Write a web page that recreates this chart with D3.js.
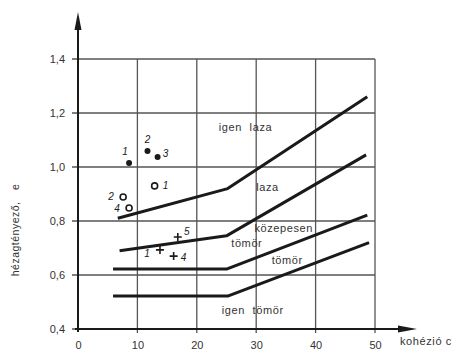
<!DOCTYPE html>
<html>
<head>
<meta charset="utf-8">
<script src="https://cdn.jsdelivr.net/npm/d3@7"></script>
<style>
    body { margin: 0; background: #fff; }
    svg { display: block; font-family: "Liberation Sans", Arial, sans-serif; }
</style>
</head>
<body>
<main></main>
<script>
// Ticks
const xTicks = [0, 10, 20, 30, 40, 50];
const yTicks = [0.4, 0.6, 0.8, 1.0, 1.2, 1.4];

// Boundary lines (kohézió c, hézagtényező e)
const lineIgenLaza = [[6.7, 0.81], [25.2, 0.92], [48.7, 1.26]];
const lineLaza = [[7.0, 0.69], [25.0, 0.745], [48.5, 1.045]];
const lineKozepesen = [[5.9, 0.622], [25.0, 0.622], [48.7, 0.822]];
const lineTomor = [[5.9, 0.522], [25.2, 0.522], [49.0, 0.72]];

// Measured points
const filledPoints = [
    { c: 8.6, e: 1.015, lab: '1' },
    { c: 11.7, e: 1.059, lab: '2' },
    { c: 13.4, e: 1.037, lab: '3' }
];
const openPoints = [
    { c: 12.9, e: 0.93, lab: '1' },
    { c: 7.6, e: 0.889, lab: '2' },
    { c: 8.6, e: 0.848, lab: '4' }
];
const crossPoints = [
    { c: 13.8, e: 0.693, lab: '1' },
    { c: 16.1, e: 0.67, lab: '4' },
    { c: 16.8, e: 0.741, lab: '5' }
];

// Region names
const regionLabels = [
    { c: 23.7, e: 1.133, text: 'igen laza' },
    { c: 30.0, e: 0.911, text: 'laza' },
    { c: 29.7, e: 0.759, text: 'közepesen' },
    { c: 25.8, e: 0.704, text: 'tömör' },
    { c: 32.6, e: 0.641, text: 'tömör' },
    { c: 24.2, e: 0.456, text: 'igen tömör' }
];

function createChart() {
    const svgWidth = 467, svgHeight = 351;
    const ink = '#1a1a1a', gridColor = '#555', textColor = '#333';

    const svg = d3.select('main').append('svg')
        .attr('width', svgWidth)
        .attr('height', svgHeight);

    // Scales
    const x = d3.scaleLinear().domain([0, 50]).range([78, 375]);
    const y = d3.scaleLinear().domain([0.4, 1.4]).range([329, 59]);

    const fmt = d => d3.format('.1f')(d).replace('.', ',');

    // Horizontal grid lines (with small tick left of the axis)
    svg.append('g').selectAll('line')
        .data(yTicks)
        .enter()
        .append('line')
        .attr('x1', x(0) - 6)
        .attr('x2', x(50))
        .attr('y1', d => y(d))
        .attr('y2', d => y(d))
        .attr('stroke', gridColor)
        .attr('stroke-width', 1.3);

    // Vertical grid lines
    svg.append('g').selectAll('line')
        .data(xTicks.slice(1))
        .enter()
        .append('line')
        .attr('x1', d => x(d))
        .attr('x2', d => x(d))
        .attr('y1', y(1.4))
        .attr('y2', y(0.4) + 4)
        .attr('stroke', gridColor)
        .attr('stroke-width', 1.3);

    // Axes (labels only, lines drawn with arrows below)
    const yAxis = svg.append('g')
        .attr('transform', `translate(${x(0) - 8},0)`)
        .call(d3.axisLeft(y).tickValues(yTicks).tickFormat(fmt).tickSize(0).tickPadding(5));
    yAxis.select('.domain').remove();

    const xAxis = svg.append('g')
        .attr('transform', `translate(0,${y(0.4) + 12})`)
        .call(d3.axisBottom(x).tickValues(xTicks).tickSize(0).tickPadding(0));
    xAxis.select('.domain').remove();

    svg.selectAll('.tick text')
        .attr('font-family', '"Liberation Sans", Arial, sans-serif')
        .attr('font-size', 11)
        .attr('fill', textColor);

    // Axis lines with arrows
    const x0 = x(0), y0 = y(0.4);
    svg.append('line')
        .attr('x1', x0).attr('x2', x0)
        .attr('y1', y0 + 3).attr('y2', 24)
        .attr('stroke', ink).attr('stroke-width', 2);
    svg.append('path')
        .attr('d', `M${x0},12 L${x0 - 3.5},30 L${x0 + 3.5},30 Z`)
        .attr('fill', ink);

    svg.append('line')
        .attr('x1', x0 - 3).attr('x2', 405)
        .attr('y1', y0).attr('y2', y0)
        .attr('stroke', ink).attr('stroke-width', 2);
    svg.append('path')
        .attr('d', `M417,${y0} L398,${y0 - 3.5} L398,${y0 + 3.5} Z`)
        .attr('fill', ink);

    // Boundary lines
    const line = d3.line().x(d => x(d[0])).y(d => y(d[1]));
    [lineIgenLaza, lineLaza, lineKozepesen, lineTomor].forEach(l => {
        svg.append('path')
            .attr('d', line(l))
            .attr('fill', 'none')
            .attr('stroke', ink)
            .attr('stroke-width', 3)
            .attr('stroke-linejoin', 'round');
    });

    // Region names
    svg.append('g').selectAll('text')
        .data(regionLabels)
        .enter()
        .append('text')
        .attr('x', d => x(d.c))
        .attr('y', d => y(d.e))
        .attr('font-size', 11)
        .attr('letter-spacing', 0.6)
        .attr('word-spacing', 4)
        .attr('fill', textColor)
        .text(d => d.text);

    // Points
    svg.append('g').selectAll('circle')
        .data(filledPoints)
        .enter()
        .append('circle')
        .attr('cx', d => x(d.c))
        .attr('cy', d => y(d.e))
        .attr('r', 3)
        .attr('fill', ink);

    svg.append('g').selectAll('circle')
        .data(openPoints)
        .enter()
        .append('circle')
        .attr('cx', d => x(d.c))
        .attr('cy', d => y(d.e))
        .attr('r', 3)
        .attr('fill', 'none')
        .attr('stroke', ink)
        .attr('stroke-width', 1.6);

    svg.append('g').selectAll('path')
        .data(crossPoints)
        .enter()
        .append('path')
        .attr('d', d => {
            const cx = x(d.c), cy = y(d.e);
            return `M${cx - 4},${cy} H${cx + 4} M${cx},${cy - 4} V${cy + 4}`;
        })
        .attr('stroke', ink)
        .attr('stroke-width', 1.6);

    // Point numbers (offsets in px, same order as the arrays)
    const offsets = [
        [[-4, -8], [0, -8], [8, 0]],
        [[11, 3], [-12, 3], [-12, 4]],
        [[-13, 7], [10, 5], [9, -2]]
    ];
    [filledPoints, openPoints, crossPoints].forEach((pts, i) => {
        svg.append('g').selectAll('text')
            .data(pts)
            .enter()
            .append('text')
            .attr('x', (d, j) => x(d.c) + offsets[i][j][0])
            .attr('y', (d, j) => y(d.e) + offsets[i][j][1])
            .attr('text-anchor', 'middle')
            .attr('font-size', 10)
            .attr('font-style', 'italic')
            .attr('fill', ink)
            .text(d => d.lab);
    });

    // Axis titles
    svg.append('text')
        .attr('transform', 'translate(19,230) rotate(-90)')
        .attr('text-anchor', 'middle')
        .attr('font-size', 10.5)
        .attr('letter-spacing', 0.5)
        .attr('word-spacing', 8)
        .attr('fill', textColor)
        .text('hézagtényező, e');

    svg.append('text')
        .attr('x', 400)
        .attr('y', 345)
        .attr('font-size', 11)
        .attr('letter-spacing', 0.6)
        .attr('fill', textColor)
        .text('kohézió c');
}

createChart();
</script>
</body>
</html>
